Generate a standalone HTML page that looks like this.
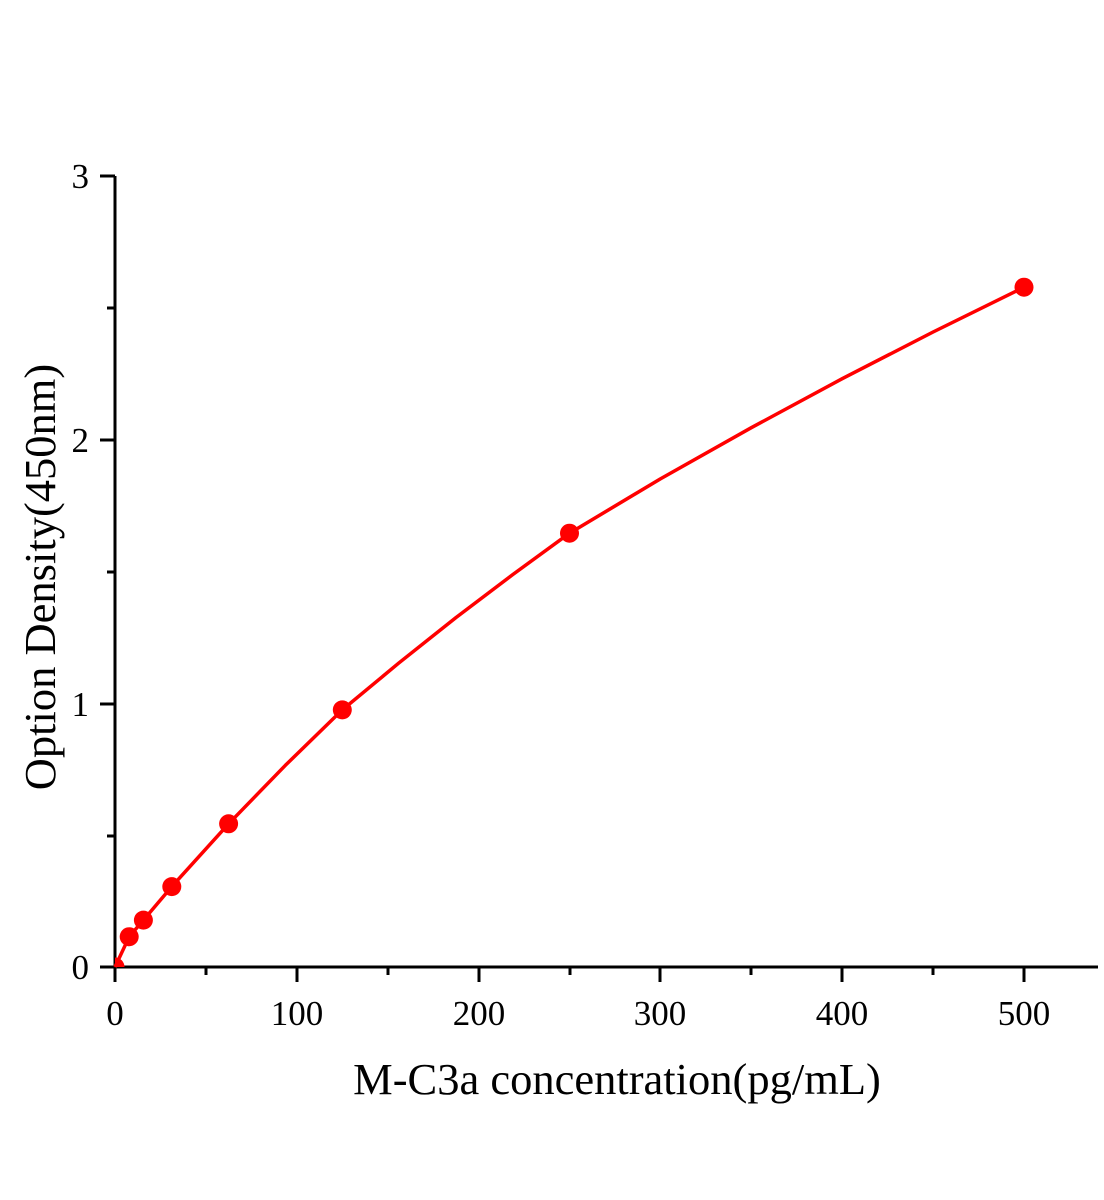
<!DOCTYPE html>
<html><head><meta charset="utf-8"><style>
html,body{margin:0;padding:0;background:#fff;}
svg{display:block;}
text{font-family:"Liberation Serif",serif;fill:#000;}
</style></head><body>
<svg width="1104" height="1200" viewBox="0 0 1104 1200" xmlns="http://www.w3.org/2000/svg">
<g stroke="#000" stroke-width="3" fill="none">
<line x1="115" y1="176" x2="115" y2="968.5"/>
<line x1="113.5" y1="967" x2="1098" y2="967"/>
<line x1="100" y1="176" x2="115" y2="176"/>
<line x1="100" y1="440" x2="115" y2="440"/>
<line x1="100" y1="704" x2="115" y2="704"/>
<line x1="100" y1="967" x2="115" y2="967"/>
<line x1="107" y1="308" x2="115" y2="308"/>
<line x1="107" y1="572" x2="115" y2="572"/>
<line x1="107" y1="836" x2="115" y2="836"/>
<line x1="115" y1="967" x2="115" y2="982"/>
<line x1="297" y1="967" x2="297" y2="982"/>
<line x1="479" y1="967" x2="479" y2="982"/>
<line x1="660" y1="967" x2="660" y2="982"/>
<line x1="842" y1="967" x2="842" y2="982"/>
<line x1="1024" y1="967" x2="1024" y2="982"/>
<line x1="206" y1="967" x2="206" y2="975"/>
<line x1="388" y1="967" x2="388" y2="975"/>
<line x1="570" y1="967" x2="570" y2="975"/>
<line x1="751" y1="967" x2="751" y2="975"/>
<line x1="933" y1="967" x2="933" y2="975"/>
</g>
<g font-size="35" text-anchor="end">
<text x="89" y="188">3</text>
<text x="89" y="452">2</text>
<text x="89" y="716">1</text>
<text x="89" y="979">0</text>
</g>
<g font-size="35" text-anchor="middle">
<text x="115" y="1025">0</text>
<text x="297" y="1025">100</text>
<text x="479" y="1025">200</text>
<text x="660" y="1025">300</text>
<text x="842" y="1025">400</text>
<text x="1024" y="1025">500</text>
</g>
<text x="617" y="1094" font-size="44.5" text-anchor="middle">M-C3a concentration(pg/mL)</text>
<text transform="translate(55,577) rotate(-90)" font-size="44.5" text-anchor="middle">Option Density(450nm)</text>
<polyline fill="none" stroke="#ff0000" stroke-width="3.5" stroke-linejoin="round"
points="115,967 129.2,936.7 143.4,920.1 171.8,886.6 228.6,823.8 285.4,765.3 342.3,709.9 398.6,663.2 455.9,617.6 512.7,574.6 569.5,533.2 660.4,478.9 751.3,427.7 842.2,378.7 933.1,332 1024,287.2"/>
<defs><clipPath id="c"><rect x="115" y="0" width="1000" height="967"/></clipPath></defs>
<g fill="#ff0000">
<circle cx="115" cy="967" r="9.5" clip-path="url(#c)"/>
<circle cx="129.2" cy="936.7" r="9.5"/>
<circle cx="143.4" cy="920.1" r="9.5"/>
<circle cx="171.8" cy="886.6" r="9.5"/>
<circle cx="228.6" cy="823.8" r="9.5"/>
<circle cx="342.3" cy="709.9" r="9.5"/>
<circle cx="569.5" cy="533.2" r="9.5"/>
<circle cx="1024" cy="287.2" r="9.5"/>
</g>
</svg>
</body></html>
